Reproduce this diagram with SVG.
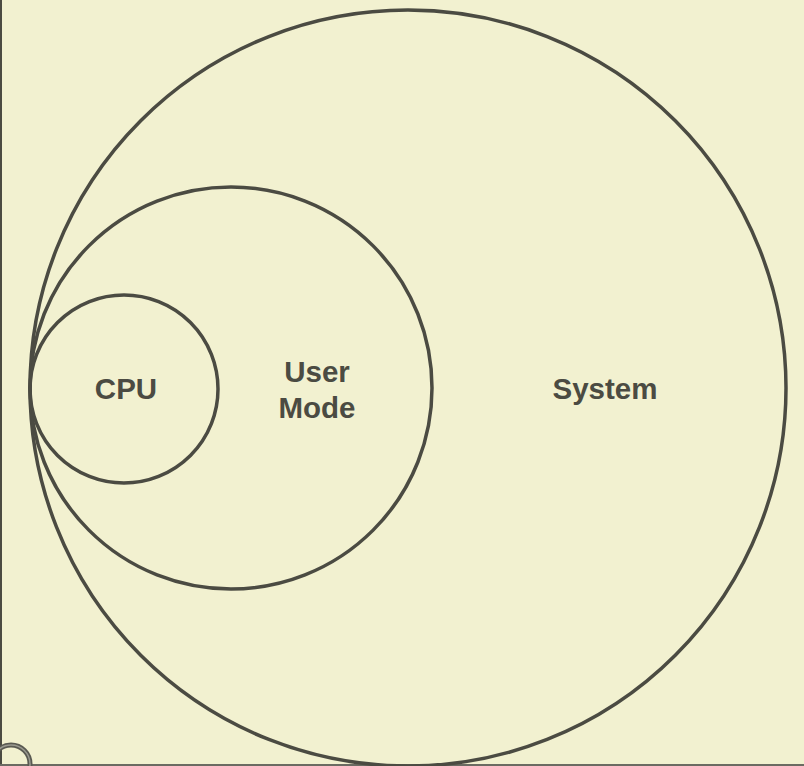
<svg xmlns="http://www.w3.org/2000/svg" width="804" height="766" viewBox="0 0 804 766">
<style>
.c{fill:none;stroke:#4b4b42;stroke-width:3.5}
.t{font-family:"Liberation Sans",Arial,sans-serif;font-weight:bold;font-size:29.5px;fill:#4b4b42;text-anchor:middle}
</style>
<rect width="804" height="766" fill="#f2f1d0"/>
<line x1="1" y1="0" x2="1" y2="766" stroke="#4b4b42" stroke-width="2"/>
<line x1="0" y1="765" x2="804" y2="765" stroke="#6b6b62" stroke-width="2"/>
<g id="system">
<circle class="c" cx="408" cy="388" r="378"/>
<text class="t" x="605" y="399">System</text>
</g>
<g id="user-mode">
<circle class="c" cx="231" cy="388" r="201"/>
<text class="t" x="317" y="382">User</text>
<text class="t" x="317" y="418">Mode</text>
</g>
<g id="cpu">
<circle class="c" cx="124" cy="389" r="94"/>
<text class="t" x="126" y="399">CPU</text>
</g>
<circle cx="11" cy="764" r="19" fill="none" stroke="#5a5a52" stroke-width="5"/>
<circle cx="11" cy="764" r="19" fill="none" stroke="#9a9a90" stroke-width="1.5"/>
</svg>
